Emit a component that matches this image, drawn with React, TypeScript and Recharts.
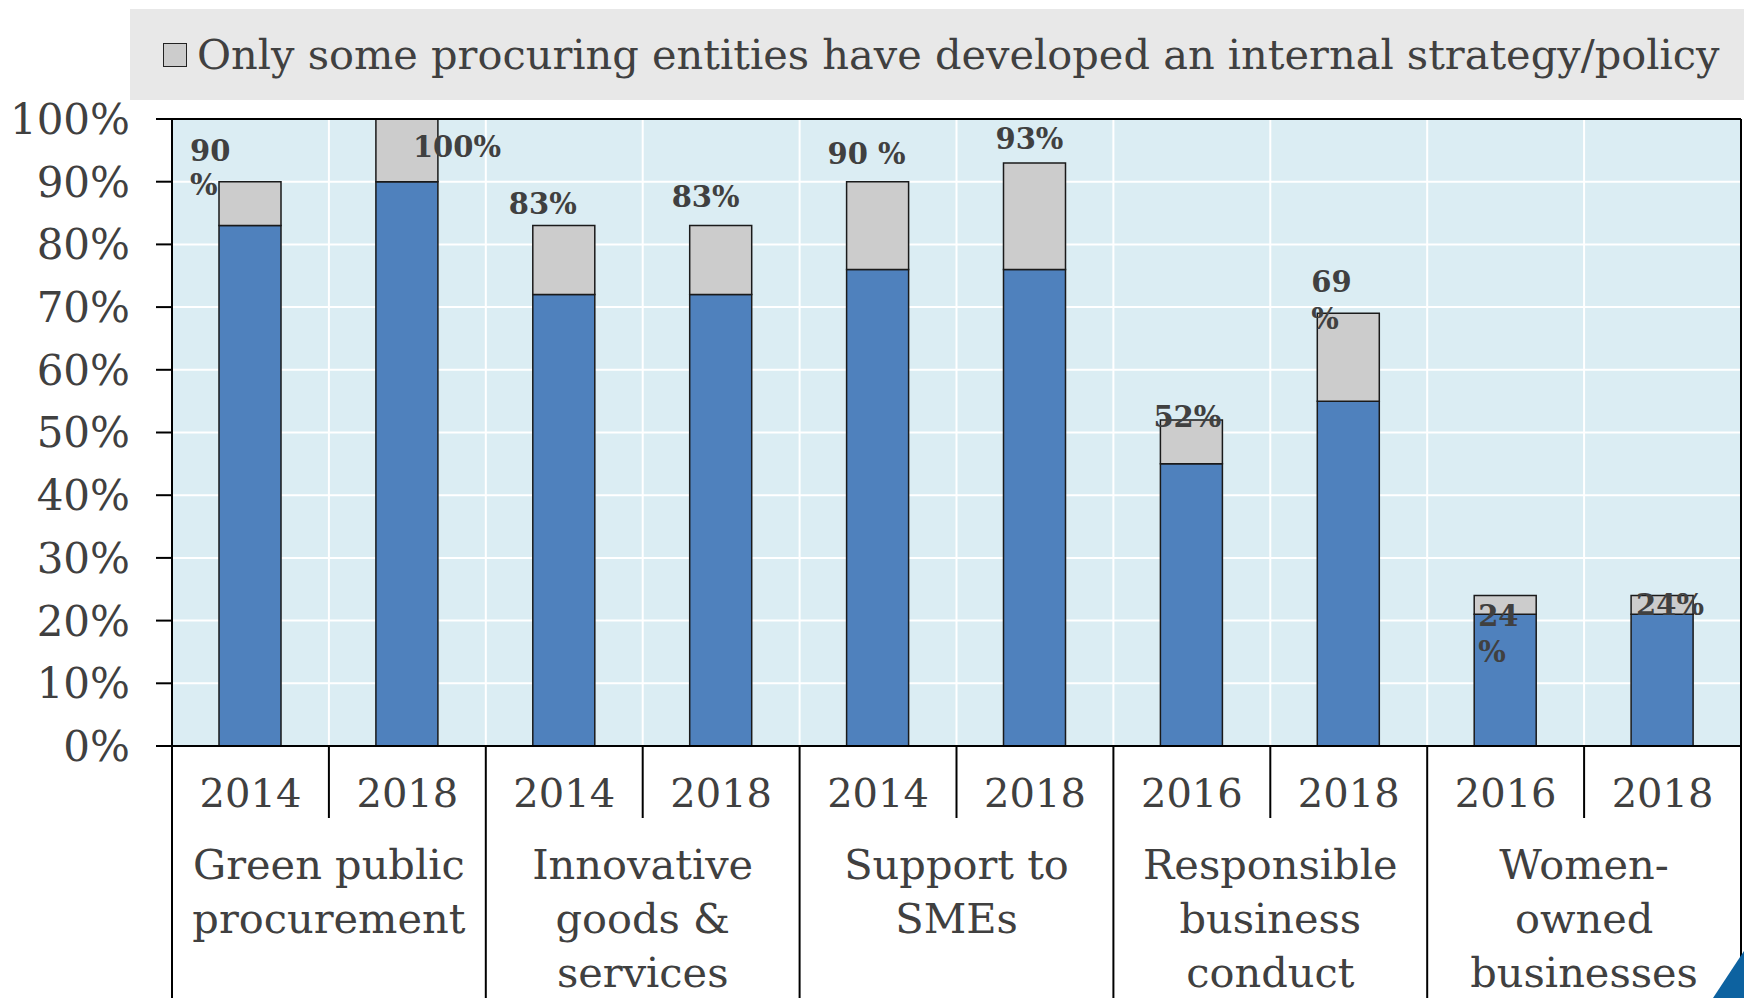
import {
  Bar,
  BarChart,
  CartesianGrid,
  LabelList,
  Legend,
  ReferenceLine,
  XAxis,
  YAxis,
} from "recharts";

const years = ["2014", "2018", "2014", "2018", "2014", "2018", "2016", "2018", "2016", "2018"];
const groups = [
  "Green public\nprocurement",
  "Green public\nprocurement",
  "Innovative\ngoods &\nservices",
  "Innovative\ngoods &\nservices",
  "Support to\nSMEs",
  "Support to\nSMEs",
  "Responsible\nbusiness\nconduct",
  "Responsible\nbusiness\nconduct",
  "Women-\nowned\nbusinesses",
  "Women-\nowned\nbusinesses",
];
const allEntities = [83, 90, 72, 72, 76, 76, 45, 55, 21, 21];
const someEntities = [7, 10, 11, 11, 14, 17, 7, 14, 3, 3];
const totalLabels = ["90\n%", "100%", "83%", "83%", "90 %", "93%", "52%", "69\n%", "24\n%", "24%"];
const yTicks = [0, 10, 20, 30, 40, 50, 60, 70, 80, 90, 100];

const data = years.map((year, i) => ({
  year,
  group: groups[i],
  all: allEntities[i],
  some: someEntities[i],
  label: totalLabels[i],
}));

// nudges for the data labels (like the hand-placed labels in the original)
const labelNudge = [
  { dx: -60, dy: -31, gap: 34 },
  { dx: 6, dy: 28, gap: 34 },
  { dx: -55, dy: -22, gap: 34 },
  { dx: -49, dy: -29, gap: 34 },
  { dx: -50, dy: -28, gap: 34 },
  { dx: -39, dy: -24, gap: 34 },
  { dx: -38, dy: -3, gap: 34 },
  { dx: -37, dy: -31, gap: 37 },
  { dx: -27, dy: 20, gap: 36 },
  { dx: -26, dy: 9, gap: 34 },
];

const W = 1744;
const H = 998;
const FONT = "'DejaVu Serif', Georgia, serif";
const TEXT = "#404040";
const AXIS_Y = 746;

function renderLabel(props: any) {
  const { x, y, width, index, value } = props;
  const n = labelNudge[index] || { dx: 0, dy: -20, gap: 34 };
  const cx = x + width / 2 + n.dx;
  const lines = String(value).split("\n");
  return (
    <text
      x={cx}
      y={y + n.dy}
      fill={TEXT}
      fontFamily={FONT}
      fontSize={29}
      fontWeight="bold"
      dominantBaseline="central"
    >
      {lines.map((l, i) => (
        <tspan key={i} x={cx} dy={i === 0 ? 0 : n.gap}>
          {l}
        </tspan>
      ))}
    </text>
  );
}

function YearTick(props: any) {
  const { x, y, payload, index } = props;
  const half = payload?.offset || (W - 172 - 3) / 20;
  const groupStart = index % 2 === 0;
  const lines = String(groups[index]).split("\n");
  return (
    <g>
      <line
        x1={x - half}
        x2={x - half}
        y1={y}
        y2={groupStart ? H - AXIS_Y + y : y + 72}
        stroke="#000"
        strokeWidth={2}
      />
      {index === years.length - 1 && (
        <line x1={x + half} x2={x + half} y1={y} y2={H} stroke="#000" strokeWidth={2} />
      )}
      <text
        x={x}
        y={y + 47}
        textAnchor="middle"
        dominantBaseline="central"
        fill={TEXT}
        fontFamily={FONT}
        fontSize={40}
      >
        {payload.value}
      </text>
      {groupStart &&
        lines.map((l, i) => (
          <text
            key={i}
            x={x + half}
            y={y + 118 + i * 54}
            textAnchor="middle"
            dominantBaseline="central"
            fill={TEXT}
            fontFamily={FONT}
            fontSize={41.5}
          >
            {l}
          </text>
        ))}
    </g>
  );
}

function LegendBox(props: any) {
  const items = (props.payload || []).filter((p: any) => p.type !== "none");
  return (
    <div
      style={{
        background: "#e8e8e8",
        height: 91,
        display: "flex",
        alignItems: "center",
        paddingLeft: 33,
        boxSizing: "border-box",
      }}
    >
      {items.map((item: any) => (
        <div key={item.value} style={{ display: "flex", alignItems: "center" }}>
          <span
            style={{
              display: "inline-block",
              width: 22,
              height: 22,
              background: item.color,
              border: "1.5px solid #222",
              marginRight: 10,
            }}
          />
          <span style={{ fontFamily: FONT, fontSize: 41.5, color: TEXT, whiteSpace: "nowrap" }}>
            {item.value}
          </span>
        </div>
      ))}
    </div>
  );
}

export default function App() {
  return (
    <div style={{ position: "absolute", left: 0, top: 0, width: W, height: H, background: "#fff", overflow: "hidden" }}>
      <BarChart
        width={W}
        height={H}
        data={data}
        margin={{ top: 119, right: 2, bottom: 0, left: 0 }}
        barSize={62}
      >
        <CartesianGrid
          fill="#dbedf3"
          stroke="#ffffff"
          strokeWidth={2}
          verticalCoordinatesGenerator={({ offset }: any) =>
            years.slice(1).map((_, i) => offset.left + ((i + 1) * offset.width) / years.length)
          }
        />
        <XAxis
          dataKey="year"
          height={252}
          tickLine={false}
          tickSize={0}
          tickMargin={0}
          axisLine={{ stroke: "#000", strokeWidth: 2 }}
          tick={<YearTick />}
          interval={0}
        />
        <YAxis
          domain={[0, 100]}
          ticks={yTicks}
          width={172}
          tickFormatter={(v) => `${v}%`}
          tickSize={16}
          tickMargin={26}
          tickLine={{ stroke: "#000", strokeWidth: 2 }}
          axisLine={{ stroke: "#000", strokeWidth: 2 }}
          tick={{ fill: TEXT, fontFamily: FONT, fontSize: 42 }}
        />
        <YAxis
          yAxisId="frame"
          orientation="right"
          width={1}
          domain={[0, 100]}
          tick={false}
          tickLine={false}
          axisLine={{ stroke: "#000", strokeWidth: 2 }}
        />
        <ReferenceLine y={100} stroke="#000" strokeWidth={2} />
        <Legend
          layout="horizontal"
          verticalAlign="middle"
          align="center"
          content={<LegendBox />}
          wrapperStyle={{ position: "absolute", top: 9, left: 130, width: 1614, height: 91 }}
        />
        <Bar
          dataKey="all"
          stackId="a"
          name="All procuring entities"
          fill="#4f81bd"
          stroke="#1a1a1a"
          strokeWidth={1.5}
          legendType="none"
          isAnimationActive={false}
        />
        <Bar
          dataKey="some"
          stackId="a"
          name="Only some procuring entities have developed an internal strategy/policy"
          fill="#cccccc"
          stroke="#1a1a1a"
          strokeWidth={1.5}
          isAnimationActive={false}
        >
          <LabelList dataKey="label" content={renderLabel} />
        </Bar>
      </BarChart>
      <svg style={{ position: "absolute", left: 0, top: 0 }} width={W} height={H} pointerEvents="none">
        <polygon points={`${W - 31},${H} ${W},${H - 47} ${W},${H}`} fill="#0d62a0" />
      </svg>
    </div>
  );
}
